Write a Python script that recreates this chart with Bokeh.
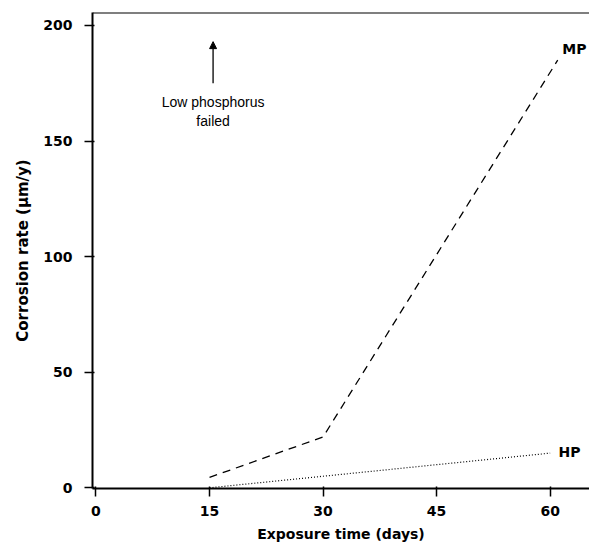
from bokeh.plotting import figure
from bokeh.models import Range1d, FixedTicker, Span, Arrow, NormalHead, Label
from bokeh.embed import file_html
from bokeh.resources import INLINE

# data
mp_days = [15, 30, 61]
mp_rate = [4.5, 22, 185]
hp_days = [15, 30, 45, 60]
hp_rate = [0, 5, 10, 15]
x_ticks = [0, 15, 30, 45, 60]
y_ticks = [0, 50, 100, 150, 200]

BOLD = "DejaVu Sans"
FONT = "Liberation Sans"

p = figure(width=589, height=546, output_backend="svg", toolbar_location=None,
           x_range=Range1d(-0.46, 65.2), y_range=Range1d(-0.3, 205.6),
           min_border_left=92, min_border_right=0, min_border_top=12, min_border_bottom=58)
p.outline_line_color = None
p.grid.visible = False
p.background_fill_color = "white"

for ax in (p.xaxis[0], p.yaxis[0]):
    ax.axis_line_width = 2
    ax.axis_line_color = "black"
    ax.major_tick_line_width = 1.5
    ax.major_tick_out = 8
    ax.major_tick_in = 2
    ax.minor_tick_line_color = None
    ax.major_label_text_font = BOLD
    ax.major_label_text_font_style = "bold"
    ax.major_label_text_font_size = "14px"
    ax.major_label_text_color = "black"
    ax.axis_label_text_font = BOLD
    ax.axis_label_text_font_style = "bold"
    ax.axis_label_text_font_size = "14px"
    ax.axis_label_text_color = "black"

p.xaxis.ticker = FixedTicker(ticks=x_ticks)
p.yaxis.ticker = FixedTicker(ticks=y_ticks)
p.xaxis.axis_label = "Exposure time (days)"
p.yaxis.axis_label = "Corrosion rate (µm/y)"
p.yaxis.axis_label_text_font_size = "15px"
p.xaxis.major_label_standoff = 9
p.yaxis.major_label_standoff = 12
p.xaxis.axis_label_standoff = 7
p.yaxis.axis_label_standoff = 8

p.add_layout(Span(location=205.6, dimension="width", line_color="black", line_width=2))

p.line(mp_days, mp_rate, line_color="black", line_width=1.3, line_dash="8 6")
p.line(hp_days, hp_rate, line_color="black", line_width=1.2, line_dash="1 2")

p.add_layout(Label(x=61.6, y=190, text="MP", text_font=BOLD, text_font_style="bold",
                   text_font_size="14px", text_color="black",
                   text_baseline="middle", text_align="left"))
p.add_layout(Label(x=61.1, y=15.5, text="HP", text_font=BOLD, text_font_style="bold",
                   text_font_size="14px", text_color="black",
                   text_baseline="middle", text_align="left"))

p.add_layout(Arrow(end=NormalHead(size=7, fill_color="black", line_color="black"),
                   x_start=15.47, y_start=175, x_end=15.47, y_end=193,
                   line_color="black", line_width=1.3))
p.add_layout(Label(x=15.47, y=166.7, text="Low phosphorus", text_font=FONT,
                   text_font_size="14px", text_color="black",
                   text_align="center", text_baseline="middle"))
p.add_layout(Label(x=15.47, y=158.5, text="failed", text_font=FONT,
                   text_font_size="14px", text_color="black",
                   text_align="center", text_baseline="middle"))

open("out.html", "w").write(file_html(p, INLINE))
